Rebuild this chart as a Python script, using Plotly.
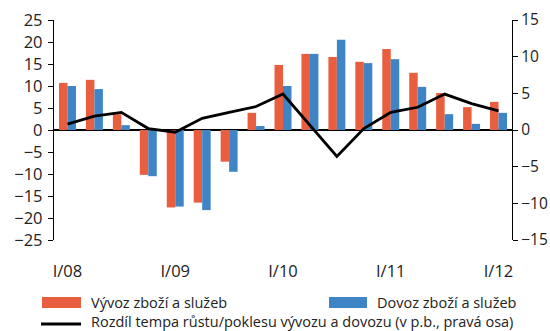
import plotly.graph_objects as go

# Quarterly year-on-year growth of exports and imports of goods and services (%)
quarters = ["I/08", "II/08", "III/08", "IV/08",
            "I/09", "II/09", "III/09", "IV/09",
            "I/10", "II/10", "III/10", "IV/10",
            "I/11", "II/11", "III/11", "IV/11",
            "I/12"]
exports = [10.7, 11.4, 3.6, -10.2, -17.6, -16.5, -7.2, 3.9,
           14.8, 17.3, 16.6, 15.5, 18.4, 13.0, 8.4, 5.2, 6.4]
imports = [10.0, 9.3, 1.1, -10.5, -17.4, -18.2, -9.5, 0.9,
           10.0, 17.3, 20.5, 15.2, 16.1, 9.8, 3.6, 1.4, 3.9]
# Export minus import growth, percentage points (right axis)
difference = [0.8, 1.9, 2.4, 0.2, -0.3, 1.6, 2.4, 3.2,
              4.9, 0.6, -3.6, 0.2, 2.4, 3.1, 4.9, 3.6, 2.6]

tick_quarters = ["I/08", "I/09", "I/10", "I/11", "I/12"]
name_exp = "Vývoz zboží a služeb"
name_imp = "Dovoz zboží a služeb"
name_diff = "Rozdíl tempa růstu/poklesu vývozu a dovozu (v p.b., pravá osa)"

RED = "#E85E3F"
BLUE = "#3F85C5"
TEXT = "#222222"
FONT = "Open Sans"

W, H = 550, 331
L, R, T, B = 54, 38, 20, 91
PW, PH = W - L - R, H - T - B


def px(x):
    return (x - L) / PW


def py(y):
    return (H - B - y) / PH


fig = go.Figure()
fig.add_trace(go.Bar(x=quarters, y=exports, name=name_exp,
                     marker=dict(color=RED, line=dict(width=0))))
fig.add_trace(go.Bar(x=quarters, y=imports, name=name_imp,
                     marker=dict(color=BLUE, line=dict(width=0))))
fig.add_trace(go.Scatter(x=quarters, y=difference, name=name_diff, yaxis="y2",
                         mode="lines", line=dict(color="black", width=2.8)))

# Legend drawn below the plot: swatches + labels
shapes = [
    dict(type="rect", xref="paper", yref="paper",
         x0=px(42), x1=px(81), y0=py(308), y1=py(297),
         fillcolor=RED, line=dict(width=0)),
    dict(type="rect", xref="paper", yref="paper",
         x0=px(329), x1=px(367), y0=py(308), y1=py(297),
         fillcolor=BLUE, line=dict(width=0)),
    dict(type="line", xref="paper", yref="paper",
         x0=px(41), x1=px(81), y0=py(324), y1=py(324),
         line=dict(color="black", width=3)),
]
annotations = [
    dict(text=name_exp, x=px(90), y=py(302.5)),
    dict(text=name_imp, x=px(376), y=py(302.5)),
    dict(text=name_diff, x=px(90), y=py(321.5)),
]
for a in annotations:
    a.update(xref="paper", yref="paper", xanchor="left", yanchor="middle",
             showarrow=False, borderpad=0,
             font=dict(family=FONT, size=14.5, color=TEXT))

tickfont = dict(family=FONT, size=16.5, color=TEXT)
tickfont_right = dict(family=FONT, size=15.5, color=TEXT)

fig.update_layout(
    width=W, height=H,
    margin=dict(l=L, r=R, t=T, b=B, pad=0, autoexpand=False),
    paper_bgcolor="white", plot_bgcolor="white",
    font=dict(family=FONT, size=15, color=TEXT),
    barmode="group", bargap=0.37, bargroupgap=0,
    showlegend=False,
    shapes=shapes, annotations=annotations,
    xaxis=dict(type="category", tickmode="array", tickvals=tick_quarters,
               ticktext=tick_quarters, showline=False, showgrid=False,
               zeroline=False, ticks="", ticklabelstandoff=19,
               tickfont=tickfont, automargin=False),
    yaxis=dict(range=[-25, 25], dtick=5, showline=True, linecolor="black",
               linewidth=1.3, ticks="outside", ticklen=5, tickcolor="black",
               showgrid=False, zeroline=True, zerolinecolor="black",
               zerolinewidth=1.6, tickfont=tickfont, ticklabelstandoff=2,
               automargin=False),
    yaxis2=dict(range=[-15, 15], dtick=5, overlaying="y", side="right",
                showline=True, linecolor="black", linewidth=1.3,
                ticks="outside", ticklen=5, tickcolor="black",
                showgrid=False, zeroline=False, tickfont=tickfont_right,
                ticklabelstandoff=0, automargin=False),
)

fig.write_html("out.html")
